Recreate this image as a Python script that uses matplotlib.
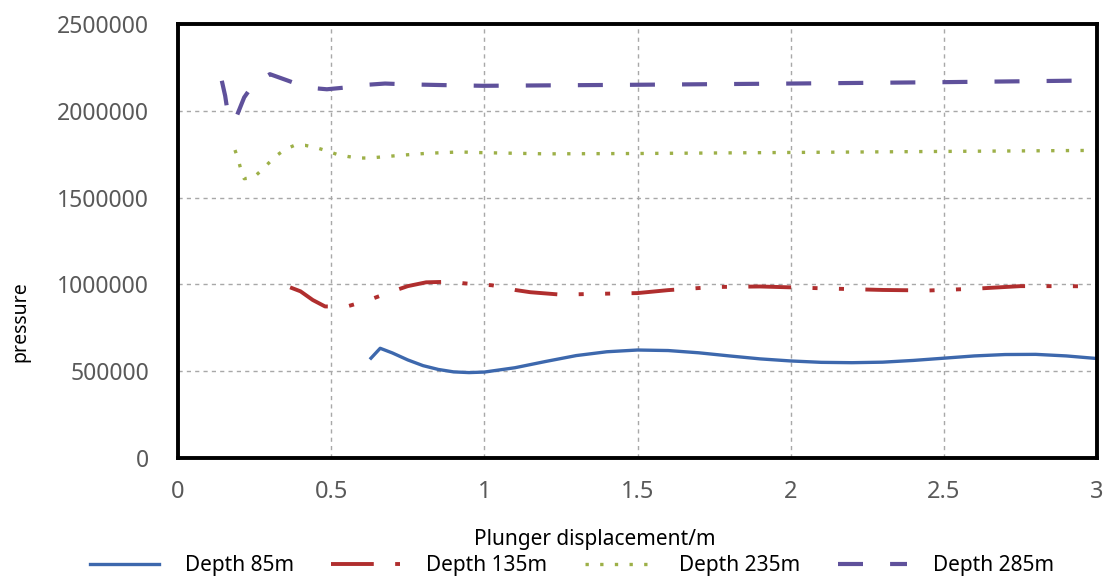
import numpy as np
import matplotlib
matplotlib.use("Agg")
import matplotlib.pyplot as plt

plt.rcParams['font.family'] = ['Noto Sans', 'DejaVu Sans']

# Depth 85m (solid blue)
x85 = [0.63, 0.66, 0.70, 0.75, 0.80, 0.85, 0.90, 0.95, 1.00, 1.10, 1.20, 1.30, 1.40,
       1.50, 1.60, 1.70, 1.80, 1.90, 2.00, 2.10, 2.20, 2.30, 2.40, 2.50, 2.60, 2.70,
       2.80, 2.90, 3.00]
p85 = [575000, 632000, 605000, 565000, 532000, 510000, 496000, 492000, 495000, 520000,
       556000, 590000, 612000, 622000, 619000, 606000, 588000, 571000, 559000, 551000,
       549000, 552000, 562000, 575000, 588000, 596000, 597000, 588000, 573000]

# Depth 135m (red dash-dot)
x135 = [0.366, 0.40, 0.44, 0.48, 0.55, 0.62, 0.687, 0.75, 0.81, 0.88, 0.955, 1.025,
        1.10, 1.15, 1.25, 1.35, 1.50, 1.60, 1.75, 1.90, 2.00, 2.15, 2.30, 2.45, 2.60,
        2.75, 2.90, 3.00]
p135 = [983000, 960000, 910000, 873000, 872000, 908000, 952000, 990000, 1012000,
        1015000, 1003000, 995000, 968000, 955000, 941000, 945000, 950000, 967000,
        985000, 988000, 983000, 975000, 968000, 965000, 975000, 990000, 990000, 988000]

# Depth 235m (green dotted)
x235 = [0.186, 0.197, 0.205, 0.216, 0.246, 0.27, 0.295, 0.32, 0.35, 0.38, 0.415,
        0.451, 0.486, 0.519, 0.557, 0.591, 0.627, 0.663, 0.736, 0.812, 0.92, 0.99,
        1.20, 1.50, 2.00, 2.50, 3.00]
p235 = [1774000, 1717000, 1663000, 1609000, 1615000, 1653000, 1697000, 1740000,
        1778000, 1801000, 1801000, 1788000, 1769000, 1749000, 1736000, 1728000,
        1728000, 1734000, 1745000, 1755000, 1763000, 1759000, 1752000, 1754000,
        1760000, 1766000, 1772000]

# Depth 285m (purple dashed)
x285 = [0.143, 0.154, 0.164, 0.175, 0.191, 0.216, 0.246, 0.30, 0.36, 0.42, 0.486,
        0.546, 0.61, 0.676, 0.736, 0.866, 0.997, 1.50, 2.00, 2.50, 3.00]
p285 = [2173000, 2086000, 1970000, 1936000, 1967000, 2077000, 2153000, 2211000,
        2173000, 2134000, 2124000, 2134000, 2149000, 2157000, 2153000, 2148000,
        2144000, 2150000, 2157000, 2165000, 2175000]

labels = ['Depth 85m', 'Depth 135m', 'Depth 235m', 'Depth 285m']
xticks = [0, 0.5, 1, 1.5, 2, 2.5, 3]
xticklabels = ['0', '0.5', '1', '1.5', '2', '2.5', '3']
yticks = [0, 500000, 1000000, 1500000, 2000000, 2500000]

fig = plt.figure(figsize=(11.07, 5.77), dpi=100)
ax = fig.add_axes([178/1107, 1-458/577, 919/1107, 434/577])

l1, = ax.plot(x85, p85, color='#3D68AD', lw=2.4, label=labels[0])
l2, = ax.plot(x135, p135, color='#B02E2E', lw=2.8, label=labels[1],
              dashes=[11, 5.5, 1.3, 5.5, 1.3, 5.5])
l3, = ax.plot(x235, p235, color='#9DB048', lw=2.4, label=labels[2],
              dashes=[1, 3.4])
l4, = ax.plot(x285, p285, color='#5F519B', lw=3.0, label=labels[3],
              dashes=[6, 6.5])

ax.set_xlim(0, 3)
ax.set_ylim(0, 2500000)
ax.set_xticks(xticks)
ax.set_xticklabels(xticklabels)
ax.set_yticks(yticks)
ax.set_yticklabels([str(v) for v in yticks])
ax.tick_params(axis='y', length=0, pad=21, labelsize=16.5, labelcolor='#595959')
ax.tick_params(axis='x', length=0, pad=16, labelsize=17, labelcolor='#595959')
ax.grid(True, color='#A8A8A8', lw=1.0, ls=(0, (3, 3)))
for s in ax.spines.values():
    s.set_linewidth(2.8)
    s.set_color('black')

fig.text(20/1107, 1-322/577, 'pressure', rotation=90, ha='center', va='center',
         fontsize=14)
fig.text(595/1107, 1-540/577, 'Plunger displacement/m', ha='center', va='center',
         fontsize=15)

fig.legend(handles=[l1, l2, l3, l4], loc='center', ncol=4,
           bbox_to_anchor=(572/1107, 1-566/577), frameon=False, fontsize=15,
           handlelength=3.3, handletextpad=1.25, columnspacing=1.8,
           borderaxespad=0, borderpad=0)

fig.savefig('out.png', dpi=100)
